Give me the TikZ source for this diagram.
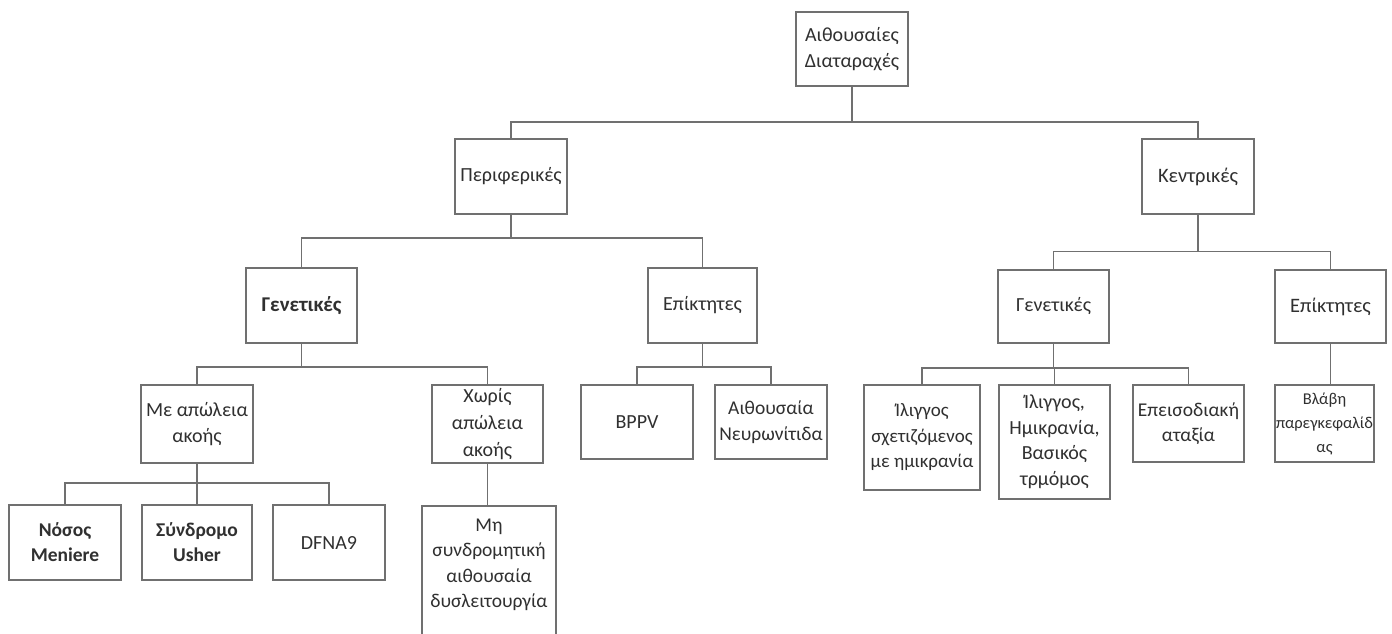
\documentclass[tikz,border=0pt]{standalone}
\usepackage{fontspec}
\setmainfont{Carlito}
\definecolor{linec}{HTML}{707070}
\definecolor{txtc}{HTML}{303030}
\tikzset{
  box/.style={draw=linec, line width=1.6pt, fill=white, inner sep=0pt, align=center, text=txtc,
    font=\fontsize{20}{25.5}\selectfont},
  bbox/.style={box, font=\fontsize{19.5}{25}\selectfont\bfseries},
  conn/.style={draw=linec, line width=1.6pt},
  wh/.style 2 args={minimum width=#1pt, minimum height=#2pt}
}
\begin{document}
\begin{tikzpicture}[x=1pt,y=-1pt]
\useasboundingbox[fill=white] (0,0) rectangle (1392,633);
% level 0
\node[box, wh={112}{74}] (root) at (852,49) {Αιθουσαίες\\Διαταραχές};
% level 1
\node[box, wh={112}{75}] (per) at (511,176.5) {Περιφερικές};
\node[box, wh={112}{75}, font=\fontsize{20.5}{25}\selectfont] (ken) at (1198,176.5) {Κεντρικές};
% level 2
\node[box, wh={111}{75}, font=\fontsize{21}{25}\selectfont\bfseries] (genL) at (301.5,305.5) {Γενετικές};
\node[box, wh={109}{75}] (epL) at (702.5,305.5) {Επίκτητες};
\node[box, wh={111}{73}] (genR) at (1053.5,306.5) {Γενετικές};
\node[box, wh={111}{73}, font=\fontsize{20.5}{25}\selectfont] (epR) at (1330.5,306.5) {Επίκτητες};
% level 3
\node[box, wh={112}{78}] (me) at (197,424) {Με απώλεια\\ακοής};
\node[box, wh={111}{78}, font=\fontsize{20}{27}\selectfont] (xor) at (487.5,424) {Χωρίς\\απώλεια\\ακοής};
\node[box, wh={112}{74}] (bppv) at (637,422) {BPPV};
\node[box, wh={112}{74}, font=\fontsize{19.5}{25.5}\selectfont] (aith) at (771,422) {Αιθουσαία\\Νευρωνίτιδα};
\node[box, wh={116}{105}, font=\fontsize{19}{25.5}\selectfont] (il1) at (922,437.5) {Ίλιγγος\\σχετιζόμενος\\με ημικρανία};
\node[box, wh={111}{114}] (il2) at (1054.5,442) {Ίλιγγος,\\Ημικρανία,\\Βασικός\\τρμόμος};
\node[box, wh={111}{77}, font=\fontsize{19.5}{25.5}\selectfont] (epeis) at (1188.5,423.5) {Επεισοδιακή\\αταξία};
\node[box, wh={99}{77}, font=\fontsize{16.5}{24}\selectfont] (vlavi) at (1324.5,423.5) {Βλάβη\\παρεγκεφαλίδ\\ας};
% level 4
\node[bbox, wh={112}{75}] (nosos) at (65,542.5) {Νόσος\\Meniere};
\node[bbox, wh={110}{75}] (synd) at (197,542.5) {Σύνδρομο\\Usher};
\node[box, wh={112}{75}] (dfna) at (329,542.5) {DFNA9};
\node[box, wh={134}{160}, anchor=north] (mi) at (489,505) {};
\node[align=center, text=txtc, inner sep=0pt, font=\fontsize{19.5}{25.5}\selectfont] (mitext) at (489,565) {Μη\\συνδρομητική\\αιθουσαία\\δυσλειτουργία};
% connectors
\draw[conn] (root.south) -- ++(0,35) -| (per.north);
\draw[conn] (root.south) ++(0,35) -| (ken.north);
\draw[conn] (per.south) -- ++(0,23) -| (genL.north);
\draw[conn] (per.south) ++(0,23) -| (epL.north);
\draw[conn] (ken.south) -- ++(0,36.5) -| (genR.north);
\draw[conn] (ken.south) ++(0,36.5) -| (epR.north);
\draw[conn] (genL.south) -- ++(0,23) -| (me.north);
\draw[conn] (genL.south) ++(0,23) -| (xor.north);
\draw[conn] (epL.south) -- ++(0,23) -| (bppv.north);
\draw[conn] (epL.south) ++(0,23) -| (aith.north);
\draw[conn] (genR.south) -- ++(0,24) -| (il1.north);
\draw[conn] (genR.south) ++(0,24) -| (il2.north);
\draw[conn] (genR.south) ++(0,24) -| (epeis.north);
\draw[conn] (epR.south) -- (epR.south |- vlavi.north);
\draw[conn] (me.south) -- ++(0,19) -| (nosos.north);
\draw[conn] (me.south) ++(0,19) -| (synd.north);
\draw[conn] (me.south) ++(0,19) -| (dfna.north);
\draw[conn] (xor.south) -- (xor.south |- mi.north);
\end{tikzpicture}
\end{document}
